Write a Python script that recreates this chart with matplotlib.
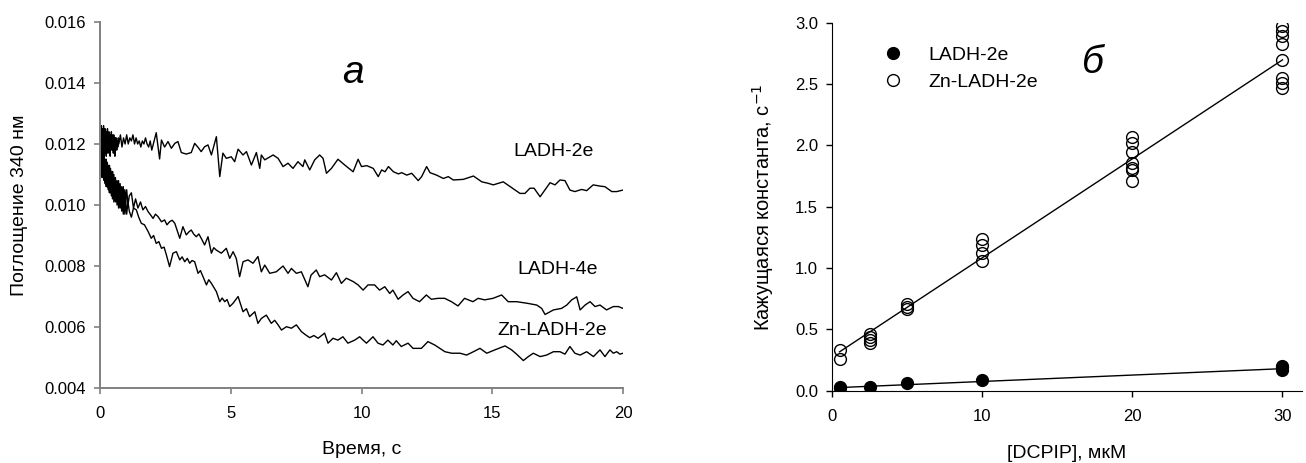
import matplotlib
matplotlib.use("Agg")
import matplotlib.pyplot as plt
import numpy as np
from matplotlib.lines import Line2D
from matplotlib.ticker import FormatStrFormatter

plt.rcParams["font.family"] = ["Liberation Sans", "DejaVu Sans"]

# --- panel a: absorbance traces (time s, absorbance) ---
trace_ladh_2e = [
    (0.000, 0.0136), (0.015, 0.0121), (0.030, 0.0114), (0.045, 0.0126), (0.060, 0.0117), (0.075, 0.0125),
    (0.090, 0.0115), (0.105, 0.0124), (0.120, 0.0118), (0.135, 0.0126), (0.150, 0.0116), (0.165, 0.0123),
    (0.180, 0.0117), (0.195, 0.0125), (0.210, 0.0118), (0.225, 0.0124), (0.240, 0.0116), (0.255, 0.0123),
    (0.270, 0.0119), (0.285, 0.0125), (0.300, 0.0117), (0.315, 0.0122), (0.330, 0.0118), (0.345, 0.0124),
    (0.360, 0.0117), (0.375, 0.0123), (0.390, 0.0116), (0.405, 0.0122), (0.420, 0.0119), (0.435, 0.0124),
    (0.450, 0.0118), (0.465, 0.0123), (0.480, 0.0119), (0.495, 0.0122), (0.510, 0.0117), (0.525, 0.0123),
    (0.540, 0.0119), (0.555, 0.0121), (0.570, 0.0116), (0.585, 0.0122), (0.600, 0.0119), (0.620, 0.0122),
    (0.640, 0.0118), (0.660, 0.0121), (0.680, 0.0119), (0.700, 0.0122),
    (0.72, 0.0120), (0.78, 0.0123), (0.84, 0.0119), (0.90, 0.0122), (0.96, 0.0120), (1.02, 0.0123),
    (1.08, 0.0120), (1.14, 0.0122), (1.20, 0.0121), (1.26, 0.0123), (1.32, 0.0120), (1.38, 0.0122),
    (1.44, 0.0120), (1.50, 0.0121), (1.56, 0.0119), (1.62, 0.0121), (1.68, 0.0120), (1.74, 0.0122),
    (1.80, 0.0120), (1.86, 0.0119), (1.92, 0.0121), (1.98, 0.0118), (2.04, 0.0120),
    (2.15, 0.01237), (2.28, 0.01151), (2.35, 0.01213), (2.47, 0.0119), (2.60, 0.01208), (2.73, 0.01186),
    (2.86, 0.01202), (2.98, 0.01208), (3.11, 0.01172), (3.30, 0.01167), (3.49, 0.01172), (3.62, 0.01202),
    (3.75, 0.01189), (3.87, 0.01175), (4.00, 0.01191), (4.13, 0.01197), (4.26, 0.01164), (4.45, 0.01224),
    (4.58, 0.01093), (4.70, 0.0117), (4.83, 0.01153),
    (5.02, 0.01158), (5.15, 0.01142), (5.28, 0.01183), (5.47, 0.01164), (5.60, 0.01175), (5.79, 0.01131),
    (5.98, 0.01172), (6.11, 0.0112), (6.17, 0.01164), (6.30, 0.01148), (6.62, 0.01164), (6.81, 0.01153),
    (7.00, 0.01126), (7.19, 0.01137), (7.38, 0.0112), (7.57, 0.01142), (7.76, 0.01126), (7.83, 0.01148),
    (8.02, 0.01115), (8.21, 0.01148), (8.40, 0.01164), (8.53, 0.01153), (8.66, 0.01104), (8.85, 0.0112),
    (9.10, 0.0115), (9.36, 0.01131), (9.68, 0.01109), (9.87, 0.0115),
    (10.00, 0.01126), (10.20, 0.01129), (10.45, 0.0112), (10.64, 0.01093), (10.77, 0.01115), (10.90, 0.01109),
    (11.03, 0.01126), (11.22, 0.01109), (11.41, 0.01102), (11.54, 0.01106), (11.73, 0.01098), (11.92, 0.01104),
    (12.17, 0.0108), (12.30, 0.01093), (12.49, 0.01126), (12.62, 0.01106), (12.87, 0.01098), (13.13, 0.01087),
    (13.32, 0.01093), (13.51, 0.01082), (13.89, 0.01084), (14.28, 0.01095), (14.60, 0.01076), (14.85, 0.01071),
    (15.04, 0.01066), (15.42, 0.01076), (15.74, 0.01057), (16.06, 0.01038), (16.25, 0.01038), (16.44, 0.01055),
    (16.60, 0.01055), (16.83, 0.01027), (17.21, 0.01073), (17.40, 0.01066), (17.59, 0.01082), (17.78, 0.0108),
    (17.97, 0.01049), (18.16, 0.01044), (18.42, 0.01051), (18.61, 0.01047), (18.86, 0.01066), (19.12, 0.01062),
    (19.31, 0.0106), (19.57, 0.01044), (19.76, 0.01044), (20.00, 0.01049),
]

trace_ladh_4e = [
    (0.00, 0.0121), (0.02, 0.0112), (0.04, 0.0119), (0.06, 0.0111), (0.08, 0.0118), (0.10, 0.0112),
    (0.12, 0.0117), (0.14, 0.0110), (0.16, 0.0117), (0.18, 0.0110), (0.20, 0.0115), (0.22, 0.0109),
    (0.24, 0.0115), (0.26, 0.0108), (0.28, 0.0114), (0.30, 0.0109), (0.32, 0.0113), (0.34, 0.0107),
    (0.36, 0.0113), (0.38, 0.0108), (0.40, 0.0112), (0.42, 0.0106), (0.44, 0.0111), (0.46, 0.0106),
    (0.48, 0.0111), (0.50, 0.0105), (0.53, 0.0110), (0.56, 0.0105), (0.59, 0.0109), (0.62, 0.0104),
    (0.65, 0.0108), (0.68, 0.0104), (0.71, 0.0108), (0.74, 0.0103), (0.77, 0.0107), (0.80, 0.0102),
    (0.83, 0.0106), (0.86, 0.0102), (0.89, 0.0106), (0.92, 0.0101), (0.95, 0.0105), (0.98, 0.0101),
    (1.02, 0.0105), (1.07, 0.0100), (1.12, 0.0103), (1.20, 0.0104), (1.28, 0.0099), (1.36, 0.0102),
    (1.45, 0.0099), (1.55, 0.0101), (1.64, 0.00984), (1.74, 0.00995), (1.84, 0.00978), (1.93, 0.00968),
    (2.03, 0.00956), (2.12, 0.00970), (2.22, 0.00962), (2.35, 0.00945), (2.47, 0.00951), (2.56, 0.00935),
    (2.66, 0.00945), (2.76, 0.00950), (2.86, 0.0094), (3.05, 0.00891), (3.17, 0.00929), (3.30, 0.00902),
    (3.40, 0.00912), (3.49, 0.00918), (3.58, 0.00905), (3.68, 0.00896), (3.78, 0.00905), (3.87, 0.00891),
    (4.00, 0.00869), (4.13, 0.00896), (4.26, 0.00842), (4.35, 0.00860), (4.45, 0.00852), (4.64, 0.00842),
    (4.83, 0.00858), (4.96, 0.00825), (5.09, 0.00847), (5.21, 0.00825), (5.34, 0.00765), (5.47, 0.00814),
    (5.66, 0.0082), (5.85, 0.00809), (6.04, 0.00831), (6.17, 0.00781), (6.30, 0.00803), (6.49, 0.00776),
    (6.74, 0.00781), (7.00, 0.008), (7.19, 0.00776), (7.32, 0.00792), (7.51, 0.00776), (7.70, 0.00781),
    (7.95, 0.00732), (8.07, 0.00770), (8.27, 0.00787), (8.40, 0.00765), (8.59, 0.00771), (8.85, 0.00754),
    (9.04, 0.00778), (9.23, 0.00743), (9.42, 0.0076), (9.68, 0.00749), (9.87, 0.00738), (10.06, 0.00721),
    (10.25, 0.00738), (10.50, 0.00738), (10.69, 0.00721), (10.89, 0.00732), (11.08, 0.0071), (11.20, 0.00721),
    (11.40, 0.00691), (11.59, 0.00705), (11.78, 0.00716), (11.97, 0.00694), (12.22, 0.00683), (12.48, 0.00705),
    (12.67, 0.00691), (12.93, 0.00694), (13.18, 0.00694), (13.44, 0.00683), (13.69, 0.00669), (13.94, 0.00694),
    (14.26, 0.00683), (14.46, 0.00694), (14.71, 0.00689), (15.03, 0.00694), (15.36, 0.00705), (15.61, 0.00683),
    (15.93, 0.00683), (16.32, 0.00678), (16.70, 0.00672), (16.89, 0.00661), (17.02, 0.00641), (17.34, 0.00656),
    (17.65, 0.00661), (17.85, 0.00672), (18.04, 0.00689), (18.23, 0.00699), (18.36, 0.00656), (18.55, 0.00672),
    (18.74, 0.00683), (18.93, 0.00667), (19.12, 0.00672), (19.37, 0.00656), (19.63, 0.00667), (19.82, 0.00667),
    (20.00, 0.00661),
]

trace_zn_ladh_2e = [
    (0.00, 0.0114), (0.02, 0.0121), (0.04, 0.0110), (0.06, 0.0118), (0.08, 0.0109), (0.10, 0.0117),
    (0.12, 0.0109), (0.14, 0.0116), (0.16, 0.0108), (0.18, 0.0115), (0.20, 0.0107), (0.22, 0.0114),
    (0.24, 0.0106), (0.26, 0.0113), (0.28, 0.0106), (0.30, 0.0112), (0.32, 0.0105), (0.34, 0.0111),
    (0.36, 0.0104), (0.38, 0.0110), (0.40, 0.0104), (0.42, 0.0109), (0.44, 0.0103), (0.46, 0.0109),
    (0.48, 0.0102), (0.50, 0.0108), (0.53, 0.0101), (0.56, 0.0107), (0.59, 0.0101), (0.62, 0.0106),
    (0.65, 0.0100), (0.68, 0.0105), (0.71, 0.0099), (0.74, 0.0104), (0.77, 0.0099), (0.80, 0.0103),
    (0.83, 0.0098), (0.86, 0.0103), (0.89, 0.0097), (0.92, 0.0102), (0.95, 0.0097), (0.98, 0.0102),
    (1.02, 0.0097), (1.07, 0.0101), (1.12, 0.0098), (1.20, 0.0096), (1.28, 0.0099), (1.39, 0.00984),
    (1.48, 0.0096), (1.58, 0.0094), (1.70, 0.00935), (1.84, 0.00913), (1.96, 0.00891), (2.05, 0.00900),
    (2.15, 0.00874), (2.25, 0.00880), (2.35, 0.00858), (2.45, 0.00862), (2.54, 0.00836), (2.66, 0.00798),
    (2.79, 0.00842), (2.92, 0.00847), (3.05, 0.0082), (3.14, 0.00830), (3.24, 0.00814), (3.34, 0.00825),
    (3.43, 0.00809), (3.52, 0.00818), (3.62, 0.00814), (3.75, 0.00776), (3.84, 0.00785), (3.94, 0.00765),
    (4.07, 0.00738), (4.16, 0.00755), (4.26, 0.00743), (4.35, 0.00730), (4.45, 0.00716), (4.58, 0.00683),
    (4.67, 0.00695), (4.77, 0.00683), (4.86, 0.00690), (4.96, 0.00667), (5.09, 0.00678), (5.28, 0.007),
    (5.47, 0.0065), (5.60, 0.00660), (5.72, 0.00634), (5.92, 0.0065), (6.04, 0.00612), (6.17, 0.00628),
    (6.36, 0.00639), (6.55, 0.00612), (6.68, 0.00622), (6.81, 0.00607), (6.94, 0.0059), (7.13, 0.00601),
    (7.32, 0.00596), (7.51, 0.00607), (7.70, 0.00585), (7.85, 0.00575), (8.02, 0.00565), (8.18, 0.00572),
    (8.34, 0.00563), (8.59, 0.0058), (8.72, 0.00547), (8.91, 0.00563), (9.10, 0.00557), (9.29, 0.00568),
    (9.48, 0.00547), (9.74, 0.00557), (9.93, 0.00568), (10.06, 0.00557), (10.19, 0.00547), (10.44, 0.00568),
    (10.63, 0.00547), (10.82, 0.00541), (11.01, 0.00557), (11.20, 0.00541), (11.33, 0.00555), (11.52, 0.00536),
    (11.78, 0.00547), (11.97, 0.0053), (12.29, 0.0053), (12.54, 0.00552), (12.80, 0.00541), (12.94, 0.00533),
    (13.19, 0.00519), (13.45, 0.00514), (13.77, 0.00514), (14.02, 0.00508), (14.28, 0.00519), (14.53, 0.0053),
    (14.79, 0.00514), (15.10, 0.00525), (15.49, 0.00538), (15.74, 0.00525), (15.93, 0.00511), (16.19, 0.0049),
    (16.38, 0.00503), (16.57, 0.00514), (16.83, 0.00503), (17.08, 0.00508), (17.34, 0.00519), (17.59, 0.00519),
    (17.78, 0.00511), (17.97, 0.00536), (18.16, 0.00514), (18.36, 0.00508), (18.61, 0.00519), (18.87, 0.00503),
    (19.12, 0.00525), (19.31, 0.00503), (19.50, 0.00525), (19.63, 0.00514), (19.76, 0.00519), (19.88, 0.00511),
    (20.00, 0.00514),
]

# --- panel б: apparent rate constants vs [DCPIP] ---
dcpip_ladh = [0.5, 0.5, 2.5, 5, 10, 30, 30, 30]
k_ladh = [0.02, 0.03, 0.03, 0.06, 0.085, 0.17, 0.19, 0.20]
dcpip_zn = [0.5, 0.5, 2.5, 2.5, 2.5, 2.5, 5, 5, 5, 10, 10, 10, 10,
            20, 20, 20, 20, 20, 20, 20, 30, 30, 30, 30, 30, 30, 30, 30]
k_zn = [0.33, 0.26, 0.46, 0.435, 0.41, 0.386, 0.707, 0.685, 0.663, 1.234, 1.187, 1.12, 1.06,
        2.065, 2.016, 1.948, 1.853, 1.812, 1.80, 1.71, 2.97, 2.93, 2.89, 2.83, 2.695, 2.546, 2.505, 2.47]
# fitted lines (intercept, slope) as drawn in the figure
fit_ladh = (0.023, 0.00522)
fit_zn = (0.276, 0.0807)
fit_range = [0.5, 30]

fig = plt.figure(figsize=(13.06, 4.63), dpi=100)

# ---------- left panel ----------
ax = fig.add_axes([100 / 1306, 75 / 463, 523 / 1306, 366 / 463])
for tr in (trace_ladh_2e, trace_ladh_4e, trace_zn_ladh_2e):
    arr = np.array(tr)
    ax.plot(arr[:, 0], arr[:, 1], color="black", lw=1.0)
ax.set_xlim(0, 20)
ax.set_ylim(0.004, 0.016)
ax.set_xticks([0, 5, 10, 15, 20])
ax.set_yticks(np.arange(0.004, 0.0161, 0.002))
ax.yaxis.set_major_formatter(FormatStrFormatter("%.3f"))
for s in ("top", "right"):
    ax.spines[s].set_visible(False)
for s in ("left", "bottom"):
    ax.spines[s].set_color("#808080")
    ax.spines[s].set_linewidth(1.4)
ax.tick_params(direction="out", length=4, width=1.2, color="#808080", labelsize=12)
ax.tick_params(axis="x", pad=9)
ax.tick_params(axis="y", pad=6)
ax.set_xlabel("Время, с", fontsize=14, labelpad=14)
ax.set_ylabel("Поглощение 340 нм", fontsize=14, labelpad=12)
ax.text(9.67, 0.01433, "а", fontsize=28, style="italic", ha="center", va="center")
ax.text(17.36, 0.01177, "LADH-2e", fontsize=14, ha="center", va="center")
ax.text(17.5, 0.00787, "LADH-4e", fontsize=14, ha="center", va="center")
ax.text(17.3, 0.0059, "Zn-LADH-2e", fontsize=14, ha="center", va="center")

# ---------- right panel ----------
bx = fig.add_axes([832 / 1306, 72.3 / 463, 470 / 1306, 368 / 463])
xs = np.array(fit_range)
bx.plot(xs, fit_zn[0] + fit_zn[1] * xs, color="black", lw=1.0, zorder=1)
bx.plot(xs, fit_ladh[0] + fit_ladh[1] * xs, color="black", lw=1.0, zorder=1)
bx.plot(dcpip_zn, k_zn, "o", ms=8.5, mfc="none", mec="black", mew=1.0, zorder=3)
bx.plot(dcpip_ladh, k_ladh, "o", ms=8.5, mfc="black", mec="black", mew=1.0, zorder=3)
bx.set_xlim(0, 31.3)
bx.set_ylim(0, 3.0)
bx.set_xticks([0, 10, 20, 30])
bx.set_yticks(np.arange(0, 3.01, 0.5))
bx.yaxis.set_major_formatter(FormatStrFormatter("%.1f"))
for s in ("top", "right"):
    bx.spines[s].set_visible(False)
bx.tick_params(direction="out", length=4, width=1.0, labelsize=12)
bx.tick_params(axis="x", pad=9)
bx.tick_params(axis="y", pad=6)
bx.set_xlabel("[DCPIP], мкМ", fontsize=14, labelpad=15)
bx.set_ylabel("Кажущаяся константа, с$^{-1}$", fontsize=14.5, labelpad=14)
bx.text(17.4, 2.67, "б", fontsize=28, style="italic", ha="center", va="center")
handles = [
    Line2D([], [], ls="none", marker="o", ms=8.5, mfc="black", mec="black"),
    Line2D([], [], ls="none", marker="o", ms=8.5, mfc="none", mec="black", mew=1.0),
]
bx.legend(handles, ["LADH-2e", "Zn-LADH-2e"], loc="upper left", bbox_to_anchor=(0.072, 0.984),
          frameon=False, fontsize=14, handlelength=1.0, handletextpad=1.3, borderpad=0.4)

fig.savefig("out.png", dpi=100)
